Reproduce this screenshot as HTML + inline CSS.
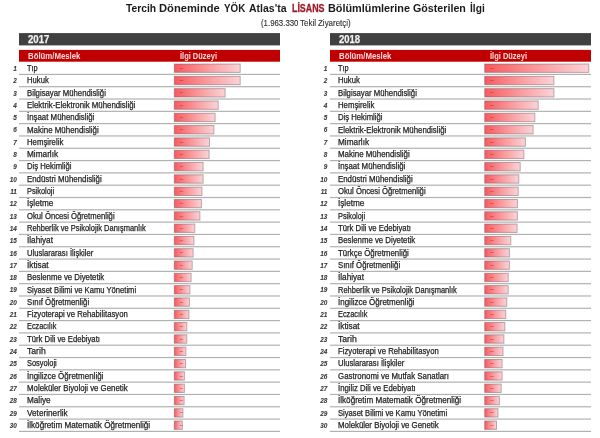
<!DOCTYPE html>
<html><head><meta charset="utf-8"><style>
*{margin:0;padding:0;box-sizing:border-box}
html,body{width:600px;height:438px;background:#fff;overflow:hidden}
body{position:relative;font-family:"Liberation Sans",Arial,sans-serif;color:#222}
.f{position:absolute;transform-origin:0 0;white-space:nowrap}
.tw{font-weight:bold;font-size:10.7px;line-height:12px;color:#1a1a1a}
.tw.red{color:#9c1c28;-webkit-text-stroke:0.3px #9c1c28}
.sw{font-size:8.4px;line-height:9px;color:#2a2a2a;-webkit-text-stroke:0.1px #2a2a2a}
.yt{font-weight:bold;font-size:10px;line-height:10px;color:#f2f2f2;-webkit-text-stroke:0.25px #f2f2f2}
.hh{font-weight:bold;font-size:8.5px;line-height:8px;color:#fbdada}
i{position:absolute;width:20px;text-align:right;font-size:6.4px;line-height:8px;font-weight:bold;font-style:italic;color:#3a3a3a;white-space:nowrap;-webkit-text-stroke:0.1px #3a3a3a}
.t{font-size:8.6px;line-height:10px;color:#1e1e1e;-webkit-text-stroke:0.25px #1e1e1e}
.d{position:absolute;font-size:6px;line-height:7px;text-decoration:none;color:#a81828}
svg{position:absolute;left:0;top:0}
</style></head><body>
<svg width="600" height="438" viewBox="0 0 600 438"><defs><linearGradient id="g" x1="0" x2="1" y1="0" y2="0"><stop offset="0" stop-color="#f65a5e"/><stop offset="0.5" stop-color="#fa9a9d"/><stop offset="1" stop-color="#fad4d7"/></linearGradient></defs><rect x="19" y="33.1" width="261" height="12.3" fill="#404040"/><rect x="19" y="49.9" width="261" height="11.8" fill="#c00000"/><rect x="19" y="73.80" width="261" height="1.2" fill="#b0b2b2"/><rect x="174.30" y="64.00" width="65.90" height="8.40" fill="url(#g)" stroke="rgba(110,80,90,0.45)" stroke-width="1"/><rect x="19" y="86.11" width="261" height="1.2" fill="#b0b2b2"/><rect x="174.30" y="76.31" width="65.90" height="8.40" fill="url(#g)" stroke="rgba(110,80,90,0.45)" stroke-width="1"/><rect x="19" y="98.42" width="261" height="1.2" fill="#b0b2b2"/><rect x="174.30" y="88.62" width="50.80" height="8.40" fill="url(#g)" stroke="rgba(110,80,90,0.45)" stroke-width="1"/><rect x="19" y="110.73" width="261" height="1.2" fill="#b0b2b2"/><rect x="174.30" y="100.93" width="43.90" height="8.40" fill="url(#g)" stroke="rgba(110,80,90,0.45)" stroke-width="1"/><rect x="19" y="123.04" width="261" height="1.2" fill="#b0b2b2"/><rect x="174.30" y="113.24" width="40.80" height="8.40" fill="url(#g)" stroke="rgba(110,80,90,0.45)" stroke-width="1"/><rect x="19" y="135.35" width="261" height="1.2" fill="#b0b2b2"/><rect x="174.30" y="125.55" width="39.60" height="8.40" fill="url(#g)" stroke="rgba(110,80,90,0.45)" stroke-width="1"/><rect x="19" y="147.66" width="261" height="1.2" fill="#b0b2b2"/><rect x="174.30" y="137.86" width="35.20" height="8.40" fill="url(#g)" stroke="rgba(110,80,90,0.45)" stroke-width="1"/><rect x="19" y="159.97" width="261" height="1.2" fill="#b0b2b2"/><rect x="174.30" y="150.17" width="34.80" height="8.40" fill="url(#g)" stroke="rgba(110,80,90,0.45)" stroke-width="1"/><rect x="19" y="172.28" width="261" height="1.2" fill="#b0b2b2"/><rect x="174.30" y="162.48" width="28.80" height="8.40" fill="url(#g)" stroke="rgba(110,80,90,0.45)" stroke-width="1"/><rect x="19" y="184.59" width="261" height="1.2" fill="#b0b2b2"/><rect x="174.30" y="174.79" width="28.80" height="8.40" fill="url(#g)" stroke="rgba(110,80,90,0.45)" stroke-width="1"/><rect x="19" y="196.90" width="261" height="1.2" fill="#b0b2b2"/><rect x="174.30" y="187.10" width="27.60" height="8.40" fill="url(#g)" stroke="rgba(110,80,90,0.45)" stroke-width="1"/><rect x="19" y="209.21" width="261" height="1.2" fill="#b0b2b2"/><rect x="174.30" y="199.41" width="27.10" height="8.40" fill="url(#g)" stroke="rgba(110,80,90,0.45)" stroke-width="1"/><rect x="19" y="221.52" width="261" height="1.2" fill="#b0b2b2"/><rect x="174.30" y="211.72" width="25.60" height="8.40" fill="url(#g)" stroke="rgba(110,80,90,0.45)" stroke-width="1"/><rect x="19" y="233.83" width="261" height="1.2" fill="#b0b2b2"/><rect x="174.30" y="224.03" width="20.50" height="8.40" fill="url(#g)" stroke="rgba(110,80,90,0.45)" stroke-width="1"/><rect x="19" y="246.14" width="261" height="1.2" fill="#b0b2b2"/><rect x="174.30" y="236.34" width="19.60" height="8.40" fill="url(#g)" stroke="rgba(110,80,90,0.45)" stroke-width="1"/><rect x="19" y="258.45" width="261" height="1.2" fill="#b0b2b2"/><rect x="174.30" y="248.65" width="18.80" height="8.40" fill="url(#g)" stroke="rgba(110,80,90,0.45)" stroke-width="1"/><rect x="19" y="270.76" width="261" height="1.2" fill="#b0b2b2"/><rect x="174.30" y="260.96" width="17.90" height="8.40" fill="url(#g)" stroke="rgba(110,80,90,0.45)" stroke-width="1"/><rect x="19" y="283.07" width="261" height="1.2" fill="#b0b2b2"/><rect x="174.30" y="273.27" width="16.80" height="8.40" fill="url(#g)" stroke="rgba(110,80,90,0.45)" stroke-width="1"/><rect x="19" y="295.38" width="261" height="1.2" fill="#b0b2b2"/><rect x="174.30" y="285.58" width="15.60" height="8.40" fill="url(#g)" stroke="rgba(110,80,90,0.45)" stroke-width="1"/><rect x="19" y="307.69" width="261" height="1.2" fill="#b0b2b2"/><rect x="174.30" y="297.89" width="15.10" height="8.40" fill="url(#g)" stroke="rgba(110,80,90,0.45)" stroke-width="1"/><rect x="19" y="320.00" width="261" height="1.2" fill="#b0b2b2"/><rect x="174.30" y="310.20" width="14.60" height="8.40" fill="url(#g)" stroke="rgba(110,80,90,0.45)" stroke-width="1"/><rect x="19" y="332.31" width="261" height="1.2" fill="#b0b2b2"/><rect x="174.30" y="322.51" width="12.50" height="8.40" fill="url(#g)" stroke="rgba(110,80,90,0.45)" stroke-width="1"/><rect x="19" y="344.62" width="261" height="1.2" fill="#b0b2b2"/><rect x="174.30" y="334.82" width="12.50" height="8.40" fill="url(#g)" stroke="rgba(110,80,90,0.45)" stroke-width="1"/><rect x="19" y="356.93" width="261" height="1.2" fill="#b0b2b2"/><rect x="174.30" y="347.13" width="11.60" height="8.40" fill="url(#g)" stroke="rgba(110,80,90,0.45)" stroke-width="1"/><rect x="19" y="369.24" width="261" height="1.2" fill="#b0b2b2"/><rect x="174.30" y="359.44" width="11.20" height="8.40" fill="url(#g)" stroke="rgba(110,80,90,0.45)" stroke-width="1"/><rect x="19" y="381.55" width="261" height="1.2" fill="#b0b2b2"/><rect x="174.30" y="371.75" width="10.10" height="8.40" fill="url(#g)" stroke="rgba(110,80,90,0.45)" stroke-width="1"/><rect x="19" y="393.86" width="261" height="1.2" fill="#b0b2b2"/><rect x="174.30" y="384.06" width="10.10" height="8.40" fill="url(#g)" stroke="rgba(110,80,90,0.45)" stroke-width="1"/><rect x="19" y="406.17" width="261" height="1.2" fill="#b0b2b2"/><rect x="174.30" y="396.37" width="9.80" height="8.40" fill="url(#g)" stroke="rgba(110,80,90,0.45)" stroke-width="1"/><rect x="19" y="418.48" width="261" height="1.2" fill="#b0b2b2"/><rect x="174.30" y="408.68" width="8.60" height="8.40" fill="url(#g)" stroke="rgba(110,80,90,0.45)" stroke-width="1"/><rect x="19" y="430.79" width="261" height="1.2" fill="#b0b2b2"/><rect x="174.30" y="420.99" width="8.00" height="8.40" fill="url(#g)" stroke="rgba(110,80,90,0.45)" stroke-width="1"/><rect x="330" y="33.1" width="261" height="12.3" fill="#404040"/><rect x="330" y="49.9" width="261" height="11.8" fill="#c00000"/><rect x="330" y="73.80" width="261" height="1.2" fill="#b0b2b2"/><rect x="484.70" y="64.00" width="104.10" height="8.40" fill="url(#g)" stroke="rgba(110,80,90,0.45)" stroke-width="1"/><rect x="330" y="86.11" width="261" height="1.2" fill="#b0b2b2"/><rect x="484.70" y="76.31" width="69.20" height="8.40" fill="url(#g)" stroke="rgba(110,80,90,0.45)" stroke-width="1"/><rect x="330" y="98.42" width="261" height="1.2" fill="#b0b2b2"/><rect x="484.70" y="88.62" width="69.20" height="8.40" fill="url(#g)" stroke="rgba(110,80,90,0.45)" stroke-width="1"/><rect x="330" y="110.73" width="261" height="1.2" fill="#b0b2b2"/><rect x="484.70" y="100.93" width="53.50" height="8.40" fill="url(#g)" stroke="rgba(110,80,90,0.45)" stroke-width="1"/><rect x="330" y="123.04" width="261" height="1.2" fill="#b0b2b2"/><rect x="484.70" y="113.24" width="50.10" height="8.40" fill="url(#g)" stroke="rgba(110,80,90,0.45)" stroke-width="1"/><rect x="330" y="135.35" width="261" height="1.2" fill="#b0b2b2"/><rect x="484.70" y="125.55" width="48.40" height="8.40" fill="url(#g)" stroke="rgba(110,80,90,0.45)" stroke-width="1"/><rect x="330" y="147.66" width="261" height="1.2" fill="#b0b2b2"/><rect x="484.70" y="137.86" width="40.70" height="8.40" fill="url(#g)" stroke="rgba(110,80,90,0.45)" stroke-width="1"/><rect x="330" y="159.97" width="261" height="1.2" fill="#b0b2b2"/><rect x="484.70" y="150.17" width="39.20" height="8.40" fill="url(#g)" stroke="rgba(110,80,90,0.45)" stroke-width="1"/><rect x="330" y="172.28" width="261" height="1.2" fill="#b0b2b2"/><rect x="484.70" y="162.48" width="35.50" height="8.40" fill="url(#g)" stroke="rgba(110,80,90,0.45)" stroke-width="1"/><rect x="330" y="184.59" width="261" height="1.2" fill="#b0b2b2"/><rect x="484.70" y="174.79" width="34.10" height="8.40" fill="url(#g)" stroke="rgba(110,80,90,0.45)" stroke-width="1"/><rect x="330" y="196.90" width="261" height="1.2" fill="#b0b2b2"/><rect x="484.70" y="187.10" width="33.50" height="8.40" fill="url(#g)" stroke="rgba(110,80,90,0.45)" stroke-width="1"/><rect x="330" y="209.21" width="261" height="1.2" fill="#b0b2b2"/><rect x="484.70" y="199.41" width="32.70" height="8.40" fill="url(#g)" stroke="rgba(110,80,90,0.45)" stroke-width="1"/><rect x="330" y="221.52" width="261" height="1.2" fill="#b0b2b2"/><rect x="484.70" y="211.72" width="32.70" height="8.40" fill="url(#g)" stroke="rgba(110,80,90,0.45)" stroke-width="1"/><rect x="330" y="233.83" width="261" height="1.2" fill="#b0b2b2"/><rect x="484.70" y="224.03" width="32.40" height="8.40" fill="url(#g)" stroke="rgba(110,80,90,0.45)" stroke-width="1"/><rect x="330" y="246.14" width="261" height="1.2" fill="#b0b2b2"/><rect x="484.70" y="236.34" width="26.10" height="8.40" fill="url(#g)" stroke="rgba(110,80,90,0.45)" stroke-width="1"/><rect x="330" y="258.45" width="261" height="1.2" fill="#b0b2b2"/><rect x="484.70" y="248.65" width="24.70" height="8.40" fill="url(#g)" stroke="rgba(110,80,90,0.45)" stroke-width="1"/><rect x="330" y="270.76" width="261" height="1.2" fill="#b0b2b2"/><rect x="484.70" y="260.96" width="24.70" height="8.40" fill="url(#g)" stroke="rgba(110,80,90,0.45)" stroke-width="1"/><rect x="330" y="283.07" width="261" height="1.2" fill="#b0b2b2"/><rect x="484.70" y="273.27" width="23.50" height="8.40" fill="url(#g)" stroke="rgba(110,80,90,0.45)" stroke-width="1"/><rect x="330" y="295.38" width="261" height="1.2" fill="#b0b2b2"/><rect x="484.70" y="285.58" width="23.50" height="8.40" fill="url(#g)" stroke="rgba(110,80,90,0.45)" stroke-width="1"/><rect x="330" y="307.69" width="261" height="1.2" fill="#b0b2b2"/><rect x="484.70" y="297.89" width="22.10" height="8.40" fill="url(#g)" stroke="rgba(110,80,90,0.45)" stroke-width="1"/><rect x="330" y="320.00" width="261" height="1.2" fill="#b0b2b2"/><rect x="484.70" y="310.20" width="21.00" height="8.40" fill="url(#g)" stroke="rgba(110,80,90,0.45)" stroke-width="1"/><rect x="330" y="332.31" width="261" height="1.2" fill="#b0b2b2"/><rect x="484.70" y="322.51" width="20.10" height="8.40" fill="url(#g)" stroke="rgba(110,80,90,0.45)" stroke-width="1"/><rect x="330" y="344.62" width="261" height="1.2" fill="#b0b2b2"/><rect x="484.70" y="334.82" width="19.20" height="8.40" fill="url(#g)" stroke="rgba(110,80,90,0.45)" stroke-width="1"/><rect x="330" y="356.93" width="261" height="1.2" fill="#b0b2b2"/><rect x="484.70" y="347.13" width="18.30" height="8.40" fill="url(#g)" stroke="rgba(110,80,90,0.45)" stroke-width="1"/><rect x="330" y="369.24" width="261" height="1.2" fill="#b0b2b2"/><rect x="484.70" y="359.44" width="17.40" height="8.40" fill="url(#g)" stroke="rgba(110,80,90,0.45)" stroke-width="1"/><rect x="330" y="381.55" width="261" height="1.2" fill="#b0b2b2"/><rect x="484.70" y="371.75" width="17.40" height="8.40" fill="url(#g)" stroke="rgba(110,80,90,0.45)" stroke-width="1"/><rect x="330" y="393.86" width="261" height="1.2" fill="#b0b2b2"/><rect x="484.70" y="384.06" width="16.50" height="8.40" fill="url(#g)" stroke="rgba(110,80,90,0.45)" stroke-width="1"/><rect x="330" y="406.17" width="261" height="1.2" fill="#b0b2b2"/><rect x="484.70" y="396.37" width="14.70" height="8.40" fill="url(#g)" stroke="rgba(110,80,90,0.45)" stroke-width="1"/><rect x="330" y="418.48" width="261" height="1.2" fill="#b0b2b2"/><rect x="484.70" y="408.68" width="13.30" height="8.40" fill="url(#g)" stroke="rgba(110,80,90,0.45)" stroke-width="1"/><rect x="330" y="430.79" width="261" height="1.2" fill="#b0b2b2"/><rect x="484.70" y="420.99" width="11.80" height="8.40" fill="url(#g)" stroke="rgba(110,80,90,0.45)" stroke-width="1"/></svg>
<span id="tw0" class="f tw" style="left:126.42px;top:2.30px;transform:scaleX(0.9605)">Tercih</span>
<span id="tw1" class="f tw" style="left:159.25px;top:2.30px;transform:scaleX(1.0446)">Döneminde</span>
<span id="tw2" class="f tw" style="left:223.52px;top:2.30px;transform:scaleX(0.9157)">YÖK</span>
<span id="tw3" class="f tw" style="left:248.54px;top:2.30px;transform:scaleX(0.9811)">Atlas'ta</span>
<span id="tw4" class="f tw red" style="left:291.61px;top:2.30px;transform:scaleX(0.8284)">LİSANS</span>
<span id="tw5" class="f tw" style="left:328.21px;top:2.30px;transform:scaleX(1.0152)">Bölümlümlerine</span>
<span id="tw6" class="f tw" style="left:413.42px;top:2.30px;transform:scaleX(1.0008)">Gösterilen</span>
<span id="tw7" class="f tw" style="left:469.89px;top:2.30px;transform:scaleX(0.9545)">İlgi</span>
<span id="sw0" class="f sw" style="left:260.61px;top:18.60px;transform:scaleX(0.9360)">(1.963.330</span>
<span id="sw1" class="f sw" style="left:299.78px;top:18.60px;transform:scaleX(0.9613)">Tekil</span>
<span id="sw2" class="f sw" style="left:318.13px;top:18.60px;transform:scaleX(0.9498)">Ziyaretçi)</span>
<span id="Lyr" class="f yt" style="left:28.16px;top:35.00px;transform:scaleX(0.9568)">2017</span>
<span id="Lh1" class="f hh" style="left:27.61px;top:52.10px;transform:scaleX(0.9167)">Bölüm/Meslek</span>
<span id="Lh2" class="f hh" style="left:180.40px;top:52.10px;transform:scaleX(0.8793)">İlgi Düzeyi</span>
<i style="left:-3.1px;top:64.50px">1</i>
<span id="Lt1" class="f t" style="left:27.05px;top:62.95px;transform:scaleX(0.8564)">Tıp</span>
<s class="d" style="left:179.8px;top:64.80px">–</s>
<i style="left:-3.1px;top:76.50px">2</i>
<span id="Lt2" class="f t" style="left:27.05px;top:75.26px;transform:scaleX(0.8926)">Hukuk</span>
<s class="d" style="left:179.8px;top:77.11px">–</s>
<i style="left:-3.1px;top:89.50px">3</i>
<span id="Lt3" class="f t" style="left:27.05px;top:87.57px;transform:scaleX(0.9021)">Bilgisayar Mühendisliği</span>
<s class="d" style="left:179.8px;top:89.42px">–</s>
<i style="left:-3.1px;top:101.50px">4</i>
<span id="Lt4" class="f t" style="left:27.05px;top:99.88px;transform:scaleX(0.9110)">Elektrik-Elektronik Mühendisliği</span>
<s class="d" style="left:179.8px;top:101.73px">–</s>
<i style="left:-3.1px;top:113.50px">5</i>
<span id="Lt5" class="f t" style="left:27.05px;top:112.19px;transform:scaleX(0.9148)">İnşaat Mühendisliği</span>
<s class="d" style="left:179.8px;top:114.04px">–</s>
<i style="left:-3.1px;top:125.50px">6</i>
<span id="Lt6" class="f t" style="left:27.05px;top:124.50px;transform:scaleX(0.9219)">Makine Mühendisliği</span>
<s class="d" style="left:179.8px;top:126.35px">–</s>
<i style="left:-3.1px;top:138.50px">7</i>
<span id="Lt7" class="f t" style="left:27.05px;top:136.81px;transform:scaleX(0.9044)">Hemşirelik</span>
<s class="d" style="left:179.8px;top:138.66px">–</s>
<i style="left:-3.1px;top:150.50px">8</i>
<span id="Lt8" class="f t" style="left:27.05px;top:149.12px;transform:scaleX(0.9583)">Mimarlık</span>
<s class="d" style="left:179.8px;top:150.97px">–</s>
<i style="left:-3.1px;top:162.50px">9</i>
<span id="Lt9" class="f t" style="left:27.05px;top:161.43px;transform:scaleX(0.8961)">Diş Hekimliği</span>
<s class="d" style="left:179.8px;top:163.28px">–</s>
<i style="left:-3.1px;top:175.50px">10</i>
<span id="Lt10" class="f t" style="left:27.05px;top:173.74px;transform:scaleX(0.9148)">Endüstri Mühendisliği</span>
<s class="d" style="left:179.8px;top:175.59px">–</s>
<i style="left:-3.1px;top:187.50px">11</i>
<span id="Lt11" class="f t" style="left:27.05px;top:186.05px;transform:scaleX(0.8578)">Psikoloji</span>
<s class="d" style="left:179.8px;top:187.90px">–</s>
<i style="left:-3.1px;top:199.50px">12</i>
<span id="Lt12" class="f t" style="left:27.05px;top:198.36px;transform:scaleX(0.9506)">İşletme</span>
<s class="d" style="left:179.8px;top:200.21px">–</s>
<i style="left:-3.1px;top:212.50px">13</i>
<span id="Lt13" class="f t" style="left:27.05px;top:210.67px;transform:scaleX(0.8946)">Okul Öncesi Öğretmenliği</span>
<s class="d" style="left:179.8px;top:212.52px">–</s>
<i style="left:-3.1px;top:224.50px">14</i>
<span id="Lt14" class="f t" style="left:27.05px;top:222.98px;transform:scaleX(0.8724)">Rehberlik ve Psikolojik Danışmanlık</span>
<s class="d" style="left:179.8px;top:224.83px">–</s>
<i style="left:-3.1px;top:236.50px">15</i>
<span id="Lt15" class="f t" style="left:27.05px;top:235.29px;transform:scaleX(0.9531)">İlahiyat</span>
<s class="d" style="left:179.8px;top:237.14px">–</s>
<i style="left:-3.1px;top:249.50px">16</i>
<span id="Lt16" class="f t" style="left:27.05px;top:247.60px;transform:scaleX(0.8891)">Uluslararası İlişkiler</span>
<s class="d" style="left:179.8px;top:249.45px">–</s>
<i style="left:-3.1px;top:261.50px">17</i>
<span id="Lt17" class="f t" style="left:27.05px;top:259.91px;transform:scaleX(0.9639)">İktisat</span>
<s class="d" style="left:179.8px;top:261.76px">–</s>
<i style="left:-3.1px;top:273.50px">18</i>
<span id="Lt18" class="f t" style="left:27.05px;top:272.22px;transform:scaleX(0.9088)">Beslenme ve Diyetetik</span>
<s class="d" style="left:179.8px;top:274.07px">–</s>
<i style="left:-3.1px;top:285.50px">19</i>
<span id="Lt19" class="f t" style="left:27.05px;top:284.53px;transform:scaleX(0.8866)">Siyaset Bilimi ve Kamu Yönetimi</span>
<s class="d" style="left:179.8px;top:286.38px">–</s>
<i style="left:-3.1px;top:298.50px">20</i>
<span id="Lt20" class="f t" style="left:27.05px;top:296.84px;transform:scaleX(0.9029)">Sınıf Öğretmenliği</span>
<s class="d" style="left:179.8px;top:298.69px">–</s>
<i style="left:-3.1px;top:310.50px">21</i>
<span id="Lt21" class="f t" style="left:27.05px;top:309.15px;transform:scaleX(0.8971)">Fizyoterapi ve Rehabilitasyon</span>
<s class="d" style="left:179.8px;top:311.00px">–</s>
<i style="left:-3.1px;top:322.50px">22</i>
<span id="Lt22" class="f t" style="left:27.05px;top:321.46px;transform:scaleX(0.8551)">Eczacılık</span>
<s class="d" style="left:179.8px;top:323.31px">–</s>
<i style="left:-3.1px;top:335.50px">23</i>
<span id="Lt23" class="f t" style="left:27.05px;top:333.77px;transform:scaleX(0.8984)">Türk Dili ve Edebiyatı</span>
<s class="d" style="left:179.8px;top:335.62px">–</s>
<i style="left:-3.1px;top:347.50px">24</i>
<span id="Lt24" class="f t" style="left:27.05px;top:346.08px;transform:scaleX(1.0023)">Tarih</span>
<s class="d" style="left:179.8px;top:347.93px">–</s>
<i style="left:-3.1px;top:359.50px">25</i>
<span id="Lt25" class="f t" style="left:27.05px;top:358.39px;transform:scaleX(0.8628)">Sosyoloji</span>
<s class="d" style="left:179.8px;top:360.24px">–</s>
<i style="left:-3.1px;top:372.50px">26</i>
<span id="Lt26" class="f t" style="left:27.05px;top:370.70px;transform:scaleX(0.9298)">İngilizce Öğretmenliği</span>
<s class="d" style="left:179.8px;top:372.55px">–</s>
<i style="left:-3.1px;top:384.50px">27</i>
<span id="Lt27" class="f t" style="left:27.05px;top:383.01px;transform:scaleX(0.9121)">Moleküler Biyoloji ve Genetik</span>
<s class="d" style="left:179.8px;top:384.86px">–</s>
<i style="left:-3.1px;top:396.50px">28</i>
<span id="Lt28" class="f t" style="left:27.05px;top:395.32px;transform:scaleX(0.9482)">Maliye</span>
<s class="d" style="left:179.8px;top:397.17px">–</s>
<i style="left:-3.1px;top:409.50px">29</i>
<span id="Lt29" class="f t" style="left:27.05px;top:407.63px;transform:scaleX(0.9570)">Veterinerlik</span>
<s class="d" style="left:179.8px;top:409.48px">–</s>
<i style="left:-3.1px;top:421.50px">30</i>
<span id="Lt30" class="f t" style="left:27.05px;top:419.94px;transform:scaleX(0.9446)">İlköğretim Matematik Öğretmenliği</span>
<s class="d" style="left:179.8px;top:421.79px">–</s>
<span id="Ryr" class="f yt" style="left:339.34px;top:35.00px;transform:scaleX(0.9477)">2018</span>
<span id="Rh1" class="f hh" style="left:338.61px;top:52.10px;transform:scaleX(0.9167)">Bölüm/Meslek</span>
<span id="Rh2" class="f hh" style="left:490.48px;top:52.10px;transform:scaleX(0.8798)">İlgi Düzeyi</span>
<i style="left:307.4px;top:64.50px">1</i>
<span id="Rt1" class="f t" style="left:338.05px;top:62.95px;transform:scaleX(0.8564)">Tıp</span>
<s class="d" style="left:490.2px;top:64.80px">–</s>
<i style="left:307.4px;top:76.50px">2</i>
<span id="Rt2" class="f t" style="left:338.05px;top:75.26px;transform:scaleX(0.8926)">Hukuk</span>
<s class="d" style="left:490.2px;top:77.11px">–</s>
<i style="left:307.4px;top:89.50px">3</i>
<span id="Rt3" class="f t" style="left:338.05px;top:87.57px;transform:scaleX(0.9021)">Bilgisayar Mühendisliği</span>
<s class="d" style="left:490.2px;top:89.42px">–</s>
<i style="left:307.4px;top:101.50px">4</i>
<span id="Rt4" class="f t" style="left:338.05px;top:99.88px;transform:scaleX(0.9044)">Hemşirelik</span>
<s class="d" style="left:490.2px;top:101.73px">–</s>
<i style="left:307.4px;top:113.50px">5</i>
<span id="Rt5" class="f t" style="left:338.05px;top:112.19px;transform:scaleX(0.8961)">Diş Hekimliği</span>
<s class="d" style="left:490.2px;top:114.04px">–</s>
<i style="left:307.4px;top:125.50px">6</i>
<span id="Rt6" class="f t" style="left:338.05px;top:124.50px;transform:scaleX(0.9110)">Elektrik-Elektronik Mühendisliği</span>
<s class="d" style="left:490.2px;top:126.35px">–</s>
<i style="left:307.4px;top:138.50px">7</i>
<span id="Rt7" class="f t" style="left:338.05px;top:136.81px;transform:scaleX(0.9583)">Mimarlık</span>
<s class="d" style="left:490.2px;top:138.66px">–</s>
<i style="left:307.4px;top:150.50px">8</i>
<span id="Rt8" class="f t" style="left:338.05px;top:149.12px;transform:scaleX(0.9219)">Makine Mühendisliği</span>
<s class="d" style="left:490.2px;top:150.97px">–</s>
<i style="left:307.4px;top:162.50px">9</i>
<span id="Rt9" class="f t" style="left:338.05px;top:161.43px;transform:scaleX(0.9148)">İnşaat Mühendisliği</span>
<s class="d" style="left:490.2px;top:163.28px">–</s>
<i style="left:307.4px;top:175.50px">10</i>
<span id="Rt10" class="f t" style="left:338.05px;top:173.74px;transform:scaleX(0.9148)">Endüstri Mühendisliği</span>
<s class="d" style="left:490.2px;top:175.59px">–</s>
<i style="left:307.4px;top:187.50px">11</i>
<span id="Rt11" class="f t" style="left:338.05px;top:186.05px;transform:scaleX(0.8946)">Okul Öncesi Öğretmenliği</span>
<s class="d" style="left:490.2px;top:187.90px">–</s>
<i style="left:307.4px;top:199.50px">12</i>
<span id="Rt12" class="f t" style="left:338.05px;top:198.36px;transform:scaleX(0.9506)">İşletme</span>
<s class="d" style="left:490.2px;top:200.21px">–</s>
<i style="left:307.4px;top:212.50px">13</i>
<span id="Rt13" class="f t" style="left:338.05px;top:210.67px;transform:scaleX(0.8578)">Psikoloji</span>
<s class="d" style="left:490.2px;top:212.52px">–</s>
<i style="left:307.4px;top:224.50px">14</i>
<span id="Rt14" class="f t" style="left:338.05px;top:222.98px;transform:scaleX(0.8984)">Türk Dili ve Edebiyatı</span>
<s class="d" style="left:490.2px;top:224.83px">–</s>
<i style="left:307.4px;top:236.50px">15</i>
<span id="Rt15" class="f t" style="left:338.05px;top:235.29px;transform:scaleX(0.9088)">Beslenme ve Diyetetik</span>
<s class="d" style="left:490.2px;top:237.14px">–</s>
<i style="left:307.4px;top:249.50px">16</i>
<span id="Rt16" class="f t" style="left:338.05px;top:247.60px;transform:scaleX(0.9147)">Türkçe Öğretmenliği</span>
<s class="d" style="left:490.2px;top:249.45px">–</s>
<i style="left:307.4px;top:261.50px">17</i>
<span id="Rt17" class="f t" style="left:338.05px;top:259.91px;transform:scaleX(0.9029)">Sınıf Öğretmenliği</span>
<s class="d" style="left:490.2px;top:261.76px">–</s>
<i style="left:307.4px;top:273.50px">18</i>
<span id="Rt18" class="f t" style="left:338.05px;top:272.22px;transform:scaleX(0.9531)">İlahiyat</span>
<s class="d" style="left:490.2px;top:274.07px">–</s>
<i style="left:307.4px;top:285.50px">19</i>
<span id="Rt19" class="f t" style="left:338.05px;top:284.53px;transform:scaleX(0.8724)">Rehberlik ve Psikolojik Danışmanlık</span>
<s class="d" style="left:490.2px;top:286.38px">–</s>
<i style="left:307.4px;top:298.50px">20</i>
<span id="Rt20" class="f t" style="left:338.05px;top:296.84px;transform:scaleX(0.9298)">İngilizce Öğretmenliği</span>
<s class="d" style="left:490.2px;top:298.69px">–</s>
<i style="left:307.4px;top:310.50px">21</i>
<span id="Rt21" class="f t" style="left:338.05px;top:309.15px;transform:scaleX(0.8551)">Eczacılık</span>
<s class="d" style="left:490.2px;top:311.00px">–</s>
<i style="left:307.4px;top:322.50px">22</i>
<span id="Rt22" class="f t" style="left:338.05px;top:321.46px;transform:scaleX(0.9639)">İktisat</span>
<s class="d" style="left:490.2px;top:323.31px">–</s>
<i style="left:307.4px;top:335.50px">23</i>
<span id="Rt23" class="f t" style="left:338.05px;top:333.77px;transform:scaleX(1.0023)">Tarih</span>
<s class="d" style="left:490.2px;top:335.62px">–</s>
<i style="left:307.4px;top:347.50px">24</i>
<span id="Rt24" class="f t" style="left:338.05px;top:346.08px;transform:scaleX(0.8971)">Fizyoterapi ve Rehabilitasyon</span>
<s class="d" style="left:490.2px;top:347.93px">–</s>
<i style="left:307.4px;top:359.50px">25</i>
<span id="Rt25" class="f t" style="left:338.05px;top:358.39px;transform:scaleX(0.8891)">Uluslararası İlişkiler</span>
<s class="d" style="left:490.2px;top:360.24px">–</s>
<i style="left:307.4px;top:372.50px">26</i>
<span id="Rt26" class="f t" style="left:338.05px;top:370.70px;transform:scaleX(0.9174)">Gastronomi ve Mutfak Sanatları</span>
<s class="d" style="left:490.2px;top:372.55px">–</s>
<i style="left:307.4px;top:384.50px">27</i>
<span id="Rt27" class="f t" style="left:338.05px;top:383.01px;transform:scaleX(0.9038)">İngiliz Dili ve Edebiyatı</span>
<s class="d" style="left:490.2px;top:384.86px">–</s>
<i style="left:307.4px;top:396.50px">28</i>
<span id="Rt28" class="f t" style="left:338.05px;top:395.32px;transform:scaleX(0.9446)">İlköğretim Matematik Öğretmenliği</span>
<s class="d" style="left:490.2px;top:397.17px">–</s>
<i style="left:307.4px;top:409.50px">29</i>
<span id="Rt29" class="f t" style="left:338.05px;top:407.63px;transform:scaleX(0.8866)">Siyaset Bilimi ve Kamu Yönetimi</span>
<s class="d" style="left:490.2px;top:409.48px">–</s>
<i style="left:307.4px;top:421.50px">30</i>
<span id="Rt30" class="f t" style="left:338.05px;top:419.94px;transform:scaleX(0.9121)">Moleküler Biyoloji ve Genetik</span>
<s class="d" style="left:490.2px;top:421.79px">–</s>
</body></html>
